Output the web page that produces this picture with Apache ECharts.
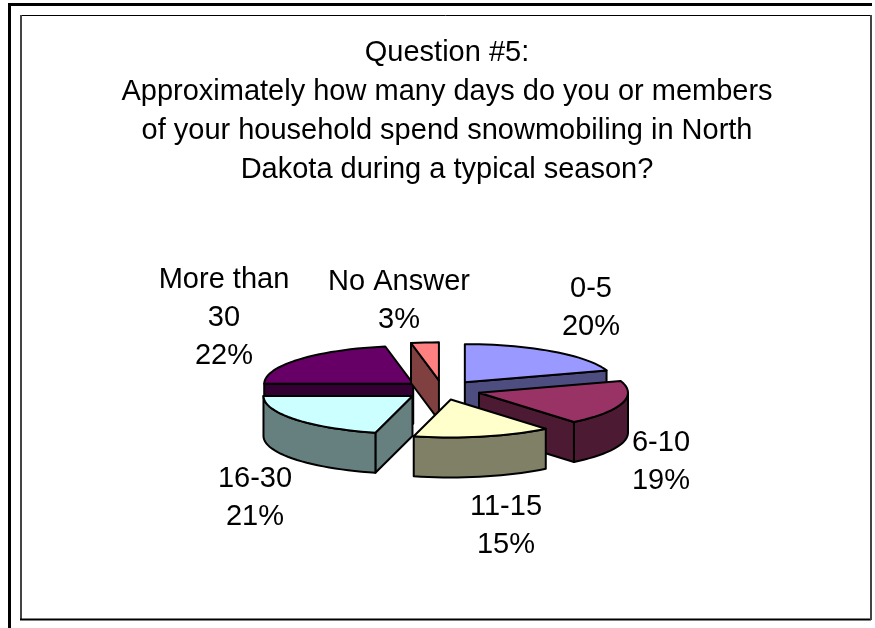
<!DOCTYPE html>
<html><head><meta charset="utf-8">
<style>html,body{margin:0;padding:0;background:#fff}#c{width:875px;height:628px}</style>
<script src="https://cdn.jsdelivr.net/npm/echarts@6/dist/echarts.min.js"></script>
</head><body><div id="c"></div>
<script>
const categories = ['0-5','6-10','11-15','16-30','More than\n30','No Answer'];
const values = [20,19,15,21,22,3];
const topColors = ['#9999FF','#993366','#FFFFCC','#CCFFFF','#660066','#FF8080'];
const wallColors = ['#4D4D80','#4D1A33','#808066','#668080','#330033','#804040'];
const drawOrder = [4,5,0,3,1,2];
const titleText = 'Question #5:\nApproximately how many days do you or members\nof your household spend snowmobiling in North\nDakota during a typical season?';
const labelAnchors = [[591,270],[661,424],[506,488],[255,460],[224,261],[399,263]];

const CX=442.5, CY=390, RX=149, RY=38, DEPTH=40, EXPLODE=38;
const FONT='"Liberation Sans", Arial, sans-serif';
const total = values.reduce((a,b)=>a+b,0);
const starts = values.map((v,i)=>values.slice(0,i).reduce((a,b)=>a+b,0)/total*2*Math.PI);

function renderSlice(params, api){
  const i = api.value(1), v = api.value(0);
  const a0 = starts[i], a1 = a0 + v/total*2*Math.PI, mid=(a0+a1)/2;
  const k = RY/RX;
  const ax = CX+EXPLODE*Math.sin(mid), ay = CY-EXPLODE*k*Math.cos(mid);
  const pt = t => [ax+RX*Math.sin(t), ay-RY*Math.cos(t)];
  const down = p => [p[0],p[1]+DEPTH];
  const n = Math.max(4,Math.ceil((a1-a0)/0.05));
  const arc=[]; for(let j=0;j<=n;j++) arc.push(pt(a0+(a1-a0)*j/n));
  const A=[ax,ay], M=[ax+0.6*RX*Math.sin(mid), ay-0.6*RY*Math.cos(mid)];
  const side=(P,Q,R)=>(Q[0]-P[0])*(R[1]-P[1])-(Q[1]-P[1])*(R[0]-P[0]);
  const stroke={stroke:'#000',lineWidth:2,lineJoin:'round'};
  const children=[];
  const poly=(points,fill)=>children.push({type:'polygon',shape:{points},style:Object.assign({fill},stroke)});
  [pt(a0),pt(a1)].forEach(P=>{
    if(side(A,P,M)*side(A,P,down(A))<0) poly([A,P,down(P),down(A)],wallColors[i]);
  });
  const lo=Math.max(a0,Math.PI/2), hi=Math.min(a1,Math.PI*1.5);
  if(hi>lo){
    const m=Math.max(3,Math.ceil((hi-lo)/0.05)), w=[];
    for(let j=0;j<=m;j++) w.push(pt(lo+(hi-lo)*j/m));
    poly(w.concat(w.map(down).reverse()),wallColors[i]);
  }
  poly([A].concat(arc),topColors[i]);
  const lab=labelAnchors[i];
  children.push({type:'text',x:lab[0],y:lab[1],style:{
    text:categories[i]+'\n'+v+'%',font:'29px '+FONT,fill:'#000',align:'center',verticalAlign:'top',lineHeight:38}});
  return {type:'group',children};
}

const chart=echarts.init(document.getElementById('c'),null,{renderer:'canvas'});
chart.setOption({
  animation:false,
  backgroundColor:'#fff',
  title:{text:titleText,left:442,top:28,textAlign:'center',
    textStyle:{fontFamily:FONT,fontSize:29,fontWeight:'normal',color:'#000',lineHeight:39}},
  graphic:[
    {type:'rect',shape:{x:20.5,y:15.5,width:850,height:604},style:{fill:'none',stroke:'#000',lineWidth:1}},
    {type:'rect',shape:{x:20,y:15,width:2,height:605},style:{fill:'#444'}},
    {type:'rect',shape:{x:20,y:618.5,width:851,height:2},style:{fill:'#000'}},
    {type:'rect',shape:{x:8,y:3,width:3,height:625},style:{fill:'#000'}},
    {type:'rect',shape:{x:8,y:3,width:864,height:3},style:{fill:'#000'}},
    {type:'rect',shape:{x:870,y:15,width:2,height:605},style:{fill:'#444'}}
  ],
  series:[{type:'custom',coordinateSystem:'none',renderItem:renderSlice,
    data:drawOrder.map(i=>[values[i],i])}]
});
</script></body></html>
